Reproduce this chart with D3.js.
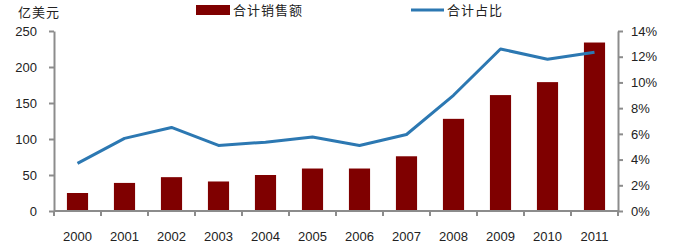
<!DOCTYPE html>
<html>
<head>
<meta charset="utf-8">
<script src="https://cdn.jsdelivr.net/npm/d3@7"></script>
<style>
  body { margin: 0; background: #fff; }
  svg text { font-family: "Liberation Sans", Arial, sans-serif; fill: #222; }
  .cjk { font-family: "Noto Sans CJK SC", sans-serif; letter-spacing: 1px; }
</style>
</head>
<body>
<div id="chart"></div>
<script>
const years = ['2000','2001','2002','2003','2004','2005','2006','2007','2008','2009','2010','2011'];
const sales = [25, 39, 47, 41, 50, 59, 59, 76, 128, 161, 179, 234];
const share = [3.7, 5.65, 6.5, 5.1, 5.35, 5.75, 5.1, 5.95, 9.0, 12.6, 11.8, 12.35];
const leftTicks = [0, 50, 100, 150, 200, 250];
const rightTicks = [0, 2, 4, 6, 8, 10, 12, 14];

const W = 682, H = 252;
const margin = { top: 31, right: 64, bottom: 41, left: 54 };
const width = W - margin.left - margin.right;
const height = H - margin.top - margin.bottom;
const barColor = '#7f0000';
const lineColor = '#2c78b2';
const axisColor = '#8c8c8c';

const svg = d3.select('#chart').append('svg')
  .attr('width', W).attr('height', H);
const g = svg.append('g').attr('transform', `translate(${margin.left},${margin.top})`);

const x = d3.scaleBand().domain(years).range([0, width]).paddingInner(0.55).paddingOuter(0.275);
const yL = d3.scaleLinear().domain([0, 250]).range([height, 0]);
const yR = d3.scaleLinear().domain([0, 14]).range([height, 0]);

// bars
g.selectAll('rect.bar')
  .data(sales)
  .enter().append('rect')
  .attr('class', 'bar')
  .attr('x', (d, i) => x(years[i]))
  .attr('y', d => yL(d))
  .attr('width', x.bandwidth())
  .attr('height', d => height - yL(d))
  .attr('fill', barColor);

// line
g.append('path')
  .datum(share)
  .attr('fill', 'none')
  .attr('stroke', lineColor)
  .attr('stroke-width', 3)
  .attr('stroke-linejoin', 'round')
  .attr('d', d3.line()
    .x((d, i) => x(years[i]) + x.bandwidth() / 2)
    .y(d => yR(d)));

// axes
const leftAxis = g.append('g')
  .call(d3.axisLeft(yL).tickValues(leftTicks).tickSize(5).tickPadding(12).tickSizeOuter(0));
const rightAxis = g.append('g')
  .attr('transform', `translate(${width},0)`)
  .call(d3.axisRight(yR).tickValues(rightTicks).tickSize(5).tickPadding(8).tickSizeOuter(0)
    .tickFormat(d => d + '%'));

// x axis: ticks at band boundaries
const xAxis = g.append('g').attr('transform', `translate(0,${height})`);
xAxis.append('line')
  .attr('x1', 0).attr('x2', width)
  .attr('stroke', axisColor).attr('stroke-width', 2);
const step = x.step();
const bounds = d3.range(years.length + 1).map(i => i * step);
xAxis.selectAll('line.tk')
  .data(bounds)
  .enter().append('line')
  .attr('class', 'tk')
  .attr('x1', d => d).attr('x2', d => d)
  .attr('y1', 0).attr('y2', 5)
  .attr('stroke', axisColor).attr('stroke-width', 2);
xAxis.selectAll('text')
  .data(years)
  .enter().append('text')
  .attr('x', d => x(d) + x.bandwidth() / 2)
  .attr('y', 30)
  .attr('text-anchor', 'middle')
  .attr('font-size', 13)
  .text(d => d);

[leftAxis, rightAxis].forEach(ax => {
  ax.select('.domain').attr('stroke', axisColor).attr('stroke-width', 2);
  ax.selectAll('.tick line').attr('stroke', axisColor).attr('stroke-width', 2);
  ax.selectAll('.tick text').attr('font-size', 13).attr('fill', '#222')
    .style('font-family', '"Liberation Sans", Arial, sans-serif');
});

// unit label
svg.append('text')
  .attr('class', 'cjk')
  .attr('x', 18).attr('y', 17)
  .attr('font-size', 13)
  .text('亿美元');

// legend
const legend = svg.append('g');
legend.append('rect')
  .attr('x', 196).attr('y', 5).attr('width', 34).attr('height', 10)
  .attr('fill', barColor);
legend.append('text')
  .attr('class', 'cjk')
  .attr('x', 233).attr('y', 15)
  .attr('font-size', 13)
  .text('合计销售额');
legend.append('line')
  .attr('x1', 411).attr('x2', 444).attr('y1', 10).attr('y2', 10)
  .attr('stroke', lineColor).attr('stroke-width', 3);
legend.append('text')
  .attr('class', 'cjk')
  .attr('x', 447).attr('y', 15)
  .attr('font-size', 13)
  .text('合计占比');
</script>
</body>
</html>
